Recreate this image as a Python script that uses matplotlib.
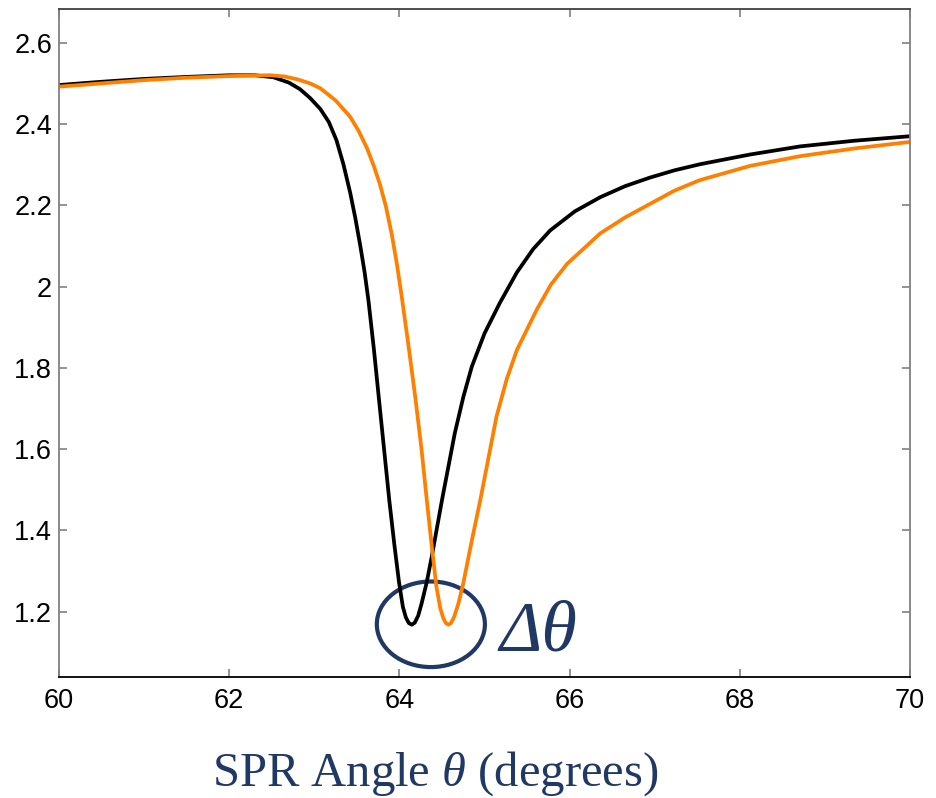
import matplotlib
matplotlib.use("Agg")
import matplotlib.pyplot as plt
from matplotlib.patches import Ellipse

# black curve (reference)
x_ref = [60.0, 60.5, 61.0, 61.5, 62.0, 62.3, 62.52, 62.7, 62.83, 62.95, 63.07, 63.17,
         63.26, 63.34, 63.42, 63.48, 63.54, 63.59, 63.635, 63.70, 63.76, 63.82, 63.88,
         63.94, 63.995, 64.04, 64.075, 64.11, 64.145, 64.18, 64.22, 64.26, 64.32, 64.38,
         64.50, 64.65, 64.75, 64.85, 65.00, 65.18, 65.38, 65.57, 65.77, 66.06, 66.36, 66.65,
         66.94, 67.23, 67.53, 68.12, 68.71, 69.35, 70.0]
y_ref = [2.496, 2.504, 2.511, 2.516, 2.520, 2.520, 2.515, 2.502, 2.486, 2.464, 2.437, 2.405,
         2.360, 2.302, 2.232, 2.170, 2.100, 2.036, 1.967, 1.845, 1.721, 1.598, 1.475,
         1.365, 1.272, 1.212, 1.186, 1.172, 1.168, 1.173, 1.190, 1.220, 1.272, 1.336,
         1.475, 1.639, 1.728, 1.803, 1.885, 1.960, 2.035, 2.092, 2.138, 2.185, 2.220, 2.247,
         2.268, 2.286, 2.301, 2.325, 2.345, 2.359, 2.370]

# orange curve (shifted)
x_shift = [60.0, 60.5, 61.0, 61.5, 62.0, 62.48, 62.65, 62.8, 62.95, 63.07, 63.25, 63.42,
           63.52, 63.62, 63.70, 63.77, 63.84, 63.91, 63.97, 64.027, 64.113, 64.19, 64.26,
           64.321, 64.378, 64.434, 64.48, 64.515, 64.545, 64.575, 64.605, 64.64, 64.69,
           64.75, 64.85, 64.95, 65.14, 65.26, 65.38, 65.61, 65.78, 65.97, 66.36, 66.65, 66.94,
           67.23, 67.53, 68.12, 68.71, 69.35, 70.0]
y_shift = [2.492, 2.500, 2.508, 2.514, 2.518, 2.520, 2.517, 2.510, 2.500, 2.488, 2.458, 2.418,
           2.383, 2.340, 2.296, 2.252, 2.198, 2.128, 2.055, 1.975, 1.844, 1.721, 1.598,
           1.475, 1.364, 1.262, 1.208, 1.184, 1.172, 1.168, 1.172, 1.186, 1.218,
           1.270, 1.375, 1.475, 1.680, 1.772, 1.844, 1.942, 2.005, 2.056, 2.131, 2.170, 2.203,
           2.236, 2.262, 2.297, 2.321, 2.340, 2.356]

x_ticks = [60, 62, 64, 66, 68, 70]
y_ticks = [1.2, 1.4, 1.6, 1.8, 2.0, 2.2, 2.4, 2.6]
y_labels = ["1.2", "1.4", "1.6", "1.8", "2", "2.2", "2.4", "2.6"]

navy = "#203864"
plt.rcParams["mathtext.fontset"] = "custom"
plt.rcParams["mathtext.rm"] = "Liberation Serif"
plt.rcParams["mathtext.it"] = "Liberation Serif:italic"

fig = plt.figure(figsize=(9.37, 7.98), dpi=100)
ax = fig.add_axes([0.063, 0.152, 0.9083, 0.8367])

ax.plot(x_ref, y_ref, color="black", lw=2.7, solid_joinstyle="round")
ax.plot(x_shift, y_shift, color="#FF8000", lw=2.7, solid_joinstyle="round")

ax.set_xlim(60, 70)
ax.set_ylim(1.04, 2.683)
ax.set_xticks(x_ticks)
ax.set_yticks(y_ticks)
ax.set_yticklabels(y_labels)
ax.tick_params(direction="in", length=6, width=1.2, color="#808080",
               top=True, right=True, labelsize=19.5)
ax.tick_params(axis="y", pad=5)
ax.tick_params(axis="x", pad=8)
for lab in ax.get_xticklabels() + ax.get_yticklabels():
    lab.set_family("Liberation Sans")

for side in ["left", "right"]:
    ax.spines[side].set_color("#808080")
ax.spines["top"].set_color("#404040")
ax.spines["bottom"].set_color("black")
for sp in ax.spines.values():
    sp.set_linewidth(1.3)

# circle around the two minima
ax.add_patch(Ellipse((64.369, 1.169), 1.27, 0.2106, fill=False,
                     edgecolor=navy, lw=3.0))
ax.text(65.18, 1.104, "Δθ", family="Liberation Serif", style="italic",
        fontsize=52, color=navy, ha="left", va="baseline")

fig.text(435 / 937, 12 / 798, r"SPR Angle $\theta$ (degrees)", family="Liberation Serif",
         fontsize=35, color=navy, ha="center", va="baseline")

fig.savefig("out.png", dpi=100)
